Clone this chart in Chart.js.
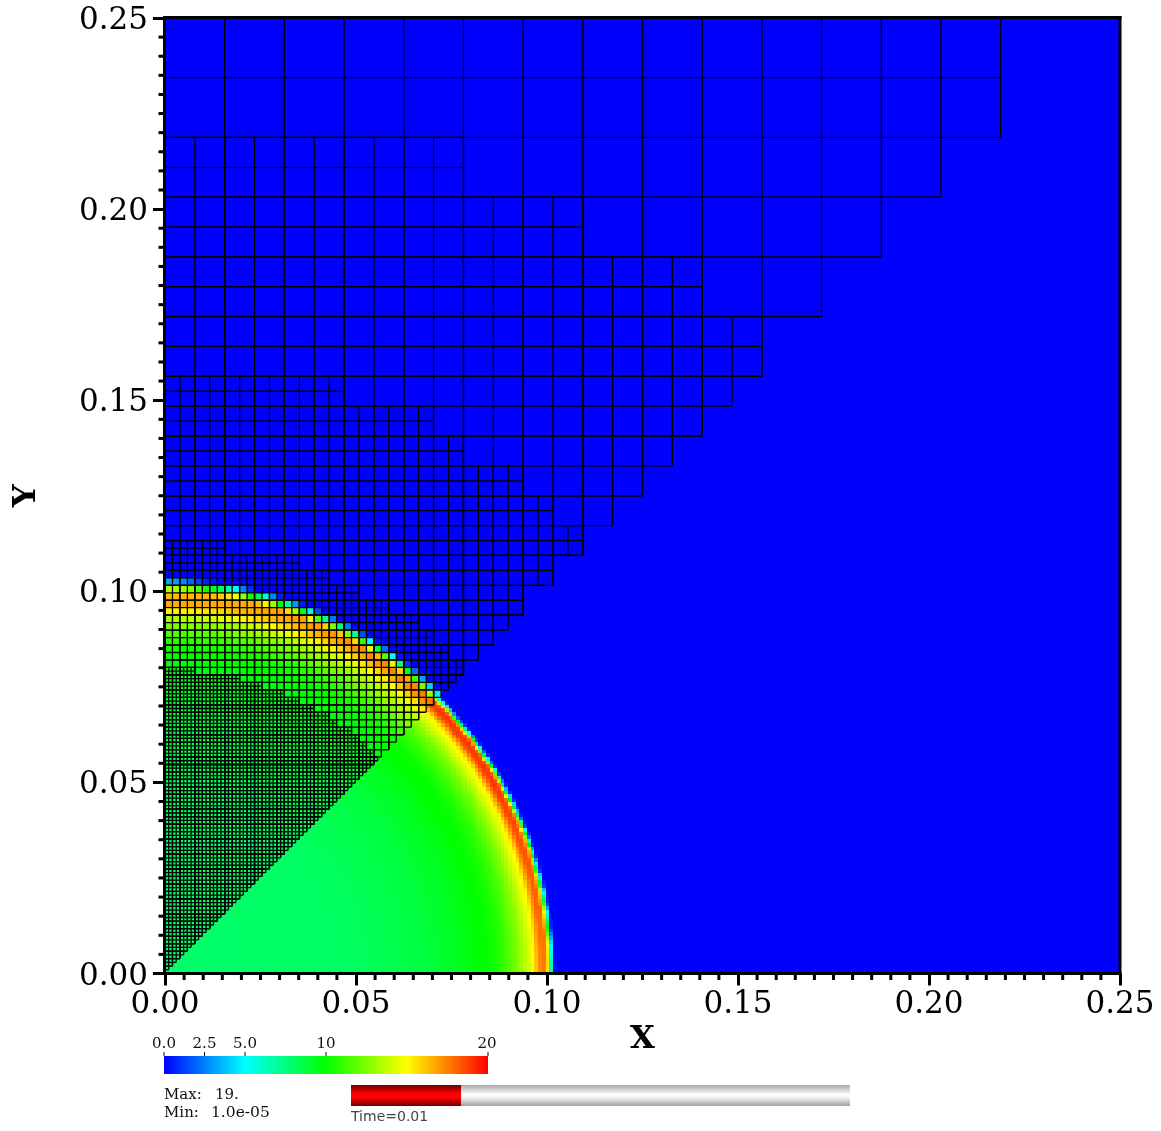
<!DOCTYPE html>
<html><head><meta charset="utf-8">
<style>html,body{margin:0;padding:0;background:#fff}canvas{display:block;filter:blur(0.35px)}</style>
<script src="https://cdn.jsdelivr.net/npm/chart.js@4"></script>
</head><body><canvas id="c" width="1161" height="1131"></canvas>
<script>
// Axes
const majorTicks=[0,0.05,0.10,0.15,0.20,0.25];
const minorTicks=[0.005,0.01,0.015,0.02,0.025,0.03,0.035,0.04,0.045,0.055,0.06,0.065,0.07,0.075,0.08,0.085,0.09,0.095,0.105,0.11,0.115,0.12,0.125,0.13,0.135,0.14,0.145,0.155,0.16,0.165,0.17,0.175,0.18,0.185,0.19,0.195,0.205,0.21,0.215,0.22,0.225,0.23,0.235,0.24,0.245];
// Colour table
const colorValues=[0,5,10,15,20];
const colorStops=[[0,0,255],[0,255,255],[0,255,0],[255,255,0],[255,0,0]];
const colorbarLabels=[["0.0",0],["2.5",2.5],["5.0",5],["10",10],["20",20]];
// Radial field profile (radius in 1/1024 units, value)
const profileRadius =[0,30,50,70,80,83,85,87,89,91,93,95,97,99,100,101,102,102.8,103.3,103.8,104.2,104.75,105,105.4,105.6,106];
const profileXAxis  =[7.9,8,8.1,8.8,9.5,9.8,10,10.1,10.5,11,11.8,12.7,13.9,15.2,16.8,17.6,17.5,14.5,8,4.3,0.5,0,0,0,0,0];
const profileLowDiag=[7.9,8,8.1,8.8,9.5,9.8,10,10.1,10.5,11,11.8,12.7,14,15.3,17,18.7,19,18,13,7,1.5,0,0,0,0,0];
const profileYAxis  =[7.9,8,8.1,8.8,9.5,9.8,10,10.2,10.7,11.4,12.4,13.3,15.3,16.7,16.6,16.3,16,14.5,12,9,7.8,5,3.3,1.2,0.6,0];
const profileUpDiag =[7.9,8,8.1,8.8,9.5,9.8,10,10.2,10.7,11.4,12.4,13.3,14,15.5,16.6,17.6,17.7,15.5,13,10,7.5,4,2.5,1,0.4,0];
// Mesh patches: [row bottom, right end of row] in 1/1024 units, per cell size
const level16Rows=[[240,224],[224,224],[208,208],[192,192],[176,176],[160,160]];
const level8Rows=[[216,80],[208,80],[200,112],[192,112],[184,144],[176,144],[168,160],[160,160],[152,152],[144,144],[136,136],[128,128],[120,120],[112,112],[104,104],[96,96]];
const level4Rows=[[156,48],[152,48],[148,72],[144,72],[140,80],[136,80],[132,96],[128,96],[124,104],[120,104],[116,112],[112,112],[108,104],[104,104],[100,96],[96,96],[92,92],[88,88],[84,84],[80,80]];
const level2Rows=[[114,16],[112,16],[110,36],[108,36],[106,44],[104,44],[102,52],[100,52],[98,60],[96,60],[94,68],[92,68],[90,72],[88,72],[86,76],[84,76],[82,80],[80,80],[78,78],[76,76],[74,74],[72,72],[70,70],[68,68],[66,66],[64,64],[62,62],[60,60],[58,58]];
const level1Rows=[[81,8],[80,8],[79,20],[78,20],[77,26],[76,26],[75,32],[74,32],[73,36],[72,36],[71,40],[70,40],[69,44],[68,44],[67,46],[66,46],[65,50],[64,50],[63,52],[62,52],[61,54],[60,54],[59,56],[58,56]];
const meshLevels=[[1,level1Rows],[2,level2Rows],[4,level4Rows],[8,level8Rows],[16,level16Rows]];

const U=1/1024;
function meshSegments(h,rows){
  const pts=[],gap={x:NaN,y:NaN};
  const low=Math.min(...rows.map(r=>r[0]));
  const all=rows.slice();
  for(let y=low-h;y>=0;y-=h)all.push([y,y]); // below the listed rows the mesh ends on the line x=y
  const seg=(x0,y0,x1,y1)=>{pts.push({x:x0*U,y:y0*U},{x:x1*U,y:y1*U},gap);};
  for(const [y,xe] of all){
    if(xe<=0)continue;
    seg(0,y,xe,y);seg(0,y+h,xe,y+h);
    for(let x=0;x<=xe;x+=h)seg(x,y,x,y+h);
  }
  return pts;
}
function lookup(tab,r){
  if(r>=profileRadius[profileRadius.length-1])return tab[tab.length-1];
  for(let i=1;i<profileRadius.length;i++){
    if(r<=profileRadius[i]){
      const t=(r-profileRadius[i-1])/(profileRadius[i]-profileRadius[i-1]);
      return tab[i-1]+t*(tab[i]-tab[i-1]);
    }
  }
}
function colorOf(v){
  v=Math.max(0,Math.min(20,v));
  for(let i=1;i<colorValues.length;i++){
    if(v<=colorValues[i]){
      const t=(v-colorValues[i-1])/(colorValues[i]-colorValues[i-1]);
      const a=colorStops[i-1],b=colorStops[i];
      return `rgb(${Math.round(a[0]+t*(b[0]-a[0]))},${Math.round(a[1]+t*(b[1]-a[1]))},${Math.round(a[2]+t*(b[2]-a[2]))})`;
    }
  }
}
function fieldAt(x,y,upper){
  const r=Math.hypot(x,y),th=Math.atan2(y,x)*180/Math.PI;
  if(upper){
    const w=Math.min(1,Math.max(0,(th-45)/45));
    return lookup(profileUpDiag,r)*(1-w)+lookup(profileYAxis,r)*w;
  }
  const w=Math.min(1,th/30);
  return lookup(profileXAxis,r)*(1-w)+lookup(profileLowDiag,r)*w;
}
const fieldPlugin={id:'field',beforeDatasetsDraw(ch){
  const {ctx,scales:{x:sx,y:sy},chartArea:a}=ch;
  ctx.save();
  ctx.fillStyle=colorOf(0);
  ctx.fillRect(a.left,a.top,a.right-a.left,a.bottom-a.top);
  const cell=(i,j,s,upper)=>{
    const v=fieldAt(i+s/2,j+s/2,upper);
    if(v<=0)return;
    const x0=Math.round(sx.getPixelForValue(i*U)),x1=Math.round(sx.getPixelForValue((i+s)*U));
    const y0=Math.round(sy.getPixelForValue((j+s)*U)),y1=Math.round(sy.getPixelForValue(j*U));
    ctx.fillStyle=colorOf(v);
    ctx.fillRect(x0,y0,x1-x0,y1-y0);
  };
  for(let j=0;j<110;j+=2)for(let i=0;i<110;i+=2){
    if(i<j)cell(i,j,2,true);
    else for(let q=0;q<2;q++)for(let p=0;p<2;p++)cell(i+p,j+q,1,false);
  }
  ctx.restore();
},afterDraw(ch){
  const {ctx,scales:{x:sx,y:sy},chartArea:a}=ch;
  ctx.save();
  ctx.fillStyle='#000';
  // minor ticks
  for(const t of minorTicks){
    ctx.fillRect(sx.getPixelForValue(t)-1.5,a.bottom,3,6.5);
    ctx.fillRect(a.left-6.5,sy.getPixelForValue(t)-1.5,6.5,3);
  }
  // frame
  ctx.fillRect(a.left-2,a.top-2,a.right-a.left+3.5,3);
  ctx.fillRect(a.left-2,a.bottom-1.5,a.right-a.left+3.5,3);
  ctx.fillRect(a.left-2,a.top-2,3,a.bottom-a.top+3.5);
  ctx.fillRect(a.right-1.5,a.top-2,3,a.bottom-a.top+3.5);
  // colour bar
  const bx0=164,bx1=488,by0=1056,by1=1074;
  const g=ctx.createLinearGradient(bx0,0,bx1,0);
  colorValues.forEach((v,i)=>g.addColorStop(v/20,`rgb(${colorStops[i].join(',')})`));
  ctx.fillStyle=g;ctx.fillRect(bx0,by0,bx1-bx0,by1-by0);
  ctx.fillStyle='#111';ctx.textAlign='center';ctx.textBaseline='alphabetic';
  ctx.font='15px "DejaVu Serif"';
  for(const [txt,v] of colorbarLabels){
    const px=bx0+(bx1-bx0)*v/20;
    ctx.fillRect(px-0.5,1052,1,4);
    ctx.fillText(txt,Math.min(px,487),1048);
  }
  ctx.textAlign='left';ctx.font='15px "DejaVu Serif"';
  ctx.fillText('Max:',164,1099);ctx.fillText('19.',215,1099);
  ctx.fillText('Min:',164,1117);ctx.font='15.5px "DejaVu Serif"';ctx.fillText('1.0e-05',211,1117);
  // time bar
  const tx0=351,tx1=850,tm=461,ty0=1085,ty1=1106;
  const gg=ctx.createLinearGradient(0,ty0,0,ty1);
  gg.addColorStop(0,'#a8a8a8');gg.addColorStop(0.45,'#ffffff');gg.addColorStop(0.6,'#f4f4f4');gg.addColorStop(1,'#a0a0a0');
  ctx.fillStyle=gg;ctx.fillRect(tx0,ty0,tx1-tx0,ty1-ty0);
  const gr=ctx.createLinearGradient(0,ty0,0,ty1);
  gr.addColorStop(0,'#6e0000');gr.addColorStop(0.4,'#ff0000');gr.addColorStop(0.6,'#ff0000');gr.addColorStop(1,'#6e0000');
  ctx.fillStyle=gr;ctx.fillRect(tx0,ty0,tm-tx0,ty1-ty0);
  ctx.fillStyle='#444';ctx.font='14px "DejaVu Sans"';
  ctx.fillText('Time=0.01',351,1121);
  ctx.restore();
}};
const axisBase=(title,pad)=>({
  type:'linear',min:0,max:0.25,
  afterBuildTicks(s){s.ticks=majorTicks.map(v=>({value:v}));},
  grid:{drawOnChartArea:false,drawTicks:true,tickLength:12,tickWidth:3,tickColor:'#000'},
  border:{display:false},
  title:{display:true,text:title,color:'#000',font:{family:'"DejaVu Serif"',size:32,weight:'bold',lineHeight:1.2},padding:{top:pad,bottom:pad}},
});
new Chart(document.getElementById('c'),{
  type:'scatter',
  data:{datasets:meshLevels.map(([h,rows])=>({label:'mesh '+h,data:meshSegments(h,rows),showLine:true,spanGaps:false,stepped:true,pointRadius:0,borderWidth:1.3,borderColor:'#000',tension:0}))},
  options:{
    responsive:false,animation:false,devicePixelRatio:1,
    layout:{padding:{left:0,right:41,top:18,bottom:0}},
    plugins:{legend:{display:false},tooltip:{enabled:false},title:{display:false}},
    events:[],
    scales:{
      x:{...axisBase('X',72),afterFit(s){s.height=157.5;s.paddingLeft=0;s.paddingRight=0;},
        ticks:{autoSkip:false,maxRotation:0,minRotation:0,color:'#000',padding:1,font:{family:'"DejaVu Serif"',size:31},callback:v=>v.toFixed(2)}},
      y:{...axisBase('Y',7),afterFit(s){s.width=165;s.paddingTop=0;s.paddingBottom=0;},
        ticks:{autoSkip:false,color:'#000',padding:5,labelOffset:3,font:{family:'"DejaVu Serif"',size:31},callback:v=>v.toFixed(2)}}
    }
  },
  plugins:[fieldPlugin]
});
</script></body></html>
